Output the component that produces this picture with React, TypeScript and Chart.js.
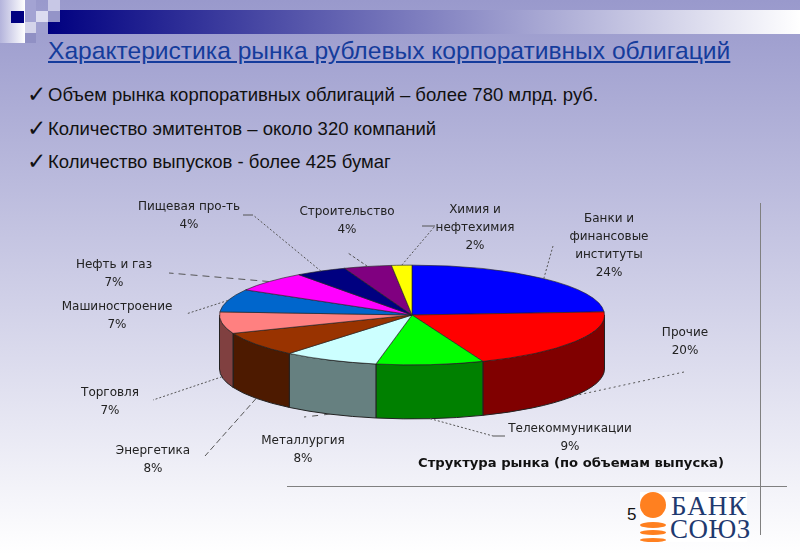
import React, { useEffect, useRef } from "react";
import { Chart, registerables } from "chart.js";

Chart.register(...registerables);

const categories = [
  "Банки и\nфинансовые\nинституты",
  "Прочие",
  "Телекоммуникации",
  "Металлургия",
  "Энергетика",
  "Торговля",
  "Машиностроение",
  "Нефть и газ",
  "Пищевая про-ть",
  "Строительство",
  "Химия и\nнефтехимия",
];
const shares = [24, 20, 9, 8, 8, 7, 7.4, 6.6, 4.3, 4, 1.7];
const topColors = ["#0000ff", "#ff0000", "#00ff00", "#ccffff", "#993300", "#ff8080", "#0066cc", "#ff00ff", "#000080", "#800080", "#ffff00"];
const wallColors = ["#000080", "#800000", "#008000", "#668080", "#4d1a00", "#804040", "#003366", "#800080", "#000040", "#400040", "#808000"];

// label centre (x, first-line y) and the outer end of each leader line
const labelAnchors = [[609, 219], [685, 333], [570, 429], [303, 441], [153, 451], [110, 393], [117, 307], [114, 265], [189, 207], [347, 212], [475, 210]];
const leaderEnds = [[553, 246], [684, 372], [493, 436], [304, 417], [205, 456], [153, 400], [186, 314], [169, 273], [253, 215], [348, 253], [435, 226]];
const leaderTails = [null, null, [505, 436], null, null, null, null, null, [243, 215], null, [422, 226]];
const leaderDash = [[2, 2], [2, 3], [2, 2], [6, 6], [6, 3], [2, 2], [2, 2], [7, 5], [2, 2], [3, 2], [2, 2]];

const chartTitle = "Структура рынка (по объемам выпуска)";
const headline = "Характеристика рынка рублевых корпоративных облигаций";
const bullets = [
  "Объем рынка корпоративных облигаций – более 780 млрд. руб.",
  "Количество эмитентов – около 320 компаний",
  "Количество выпусков - более 425 бумаг",
];
const pageNumber = "5";

const TILT = 50 / 193;
const DEPTH = 54;

const piePerspective = {
  id: "piePerspective",
  beforeDatasetsDraw(chart: any) {
    const { ctx } = chart;
    const arcs = chart.getDatasetMeta(0).data;
    const { x: cx, y: cy, outerRadius: r } = arcs[0].getProps(["x", "y", "outerRadius"], true);
    const ry = r * TILT;
    arcs.forEach((arc: any, i: number) => {
      const { startAngle, endAngle } = arc.getProps(["startAngle", "endAngle"], true);
      const a = Math.max(startAngle, 0);
      const b = Math.min(endAngle, Math.PI);
      if (b <= a) return;
      ctx.save();
      ctx.beginPath();
      ctx.ellipse(cx, cy, r, ry, 0, a, b);
      ctx.ellipse(cx, cy + DEPTH, r, ry, 0, b, a, true);
      ctx.closePath();
      ctx.fillStyle = wallColors[i];
      ctx.fill();
      ctx.lineWidth = 1;
      ctx.strokeStyle = "#222";
      ctx.stroke();
      ctx.restore();
    });
    ctx.save();
    ctx.translate(0, cy);
    ctx.scale(1, TILT);
    ctx.translate(0, -cy);
  },
  afterDatasetsDraw(chart: any) {
    chart.ctx.restore();
  },
  afterDraw(chart: any) {
    const { ctx } = chart;
    const arcs = chart.getDatasetMeta(0).data;
    ctx.save();
    arcs.forEach((arc: any, i: number) => {
      const { x: cx, y: cy, outerRadius: r, startAngle, endAngle } = arc.getProps(["x", "y", "outerRadius", "startAngle", "endAngle"], true);
      const mid = (startAngle + endAngle) / 2;
      const front = Math.sin(mid) > 0;
      const px = cx + r * Math.cos(mid);
      const py = cy + r * TILT * Math.sin(mid) + (front ? DEPTH : 0);
      const [ex, ey] = leaderEnds[i];
      ctx.strokeStyle = "#555";
      ctx.lineWidth = 1;
      ctx.setLineDash(leaderDash[i]);
      ctx.beginPath();
      ctx.moveTo(px, py);
      ctx.lineTo(ex, ey);
      ctx.stroke();
      ctx.setLineDash([]);
      const tail = leaderTails[i];
      if (tail) {
        ctx.beginPath();
        ctx.moveTo(ex, ey);
        ctx.lineTo(tail[0], tail[1]);
        ctx.stroke();
      }
      const lines = [...categories[i].split("\n"), `${Math.round(shares[i])}%`];
      ctx.font = "12px 'DejaVu Sans'";
      ctx.fillStyle = "#222";
      ctx.textAlign = "center";
      ctx.textBaseline = "middle";
      lines.forEach((line: string, k: number) => {
        ctx.fillText(line, labelAnchors[i][0], labelAnchors[i][1] + k * 18);
      });
    });
    ctx.font = "bold 13.15px 'DejaVu Sans'";
    ctx.fillStyle = "#111";
    ctx.textAlign = "center";
    ctx.textBaseline = "middle";
    ctx.fillText(chartTitle, 571, 464);
    ctx.restore();
  },
};

const abs = (left: number, top: number, width: number, height: number, background: string): React.CSSProperties => ({
  position: "absolute",
  left,
  top,
  width,
  height,
  background,
});

const cornerSquares: [number, number, number, number, string][] = [
  [25, 0, 11, 22, "#a3a3d3"],
  [36, 11, 12, 11, "#dcdcf0"],
  [48, 0, 12, 11, "#c8c8e6"],
  [48, 11, 12, 11, "#9494c8"],
  [25, 22, 11, 11, "#d4d4ea"],
  [36, 22, 12, 11, "#a0a0d0"],
  [25, 33, 11, 10, "#9090c4"],
];

export default function App() {
  const ref = useRef<HTMLCanvasElement>(null);
  useEffect(() => {
    document.body.style.margin = "0";
    const chart = new Chart(ref.current as HTMLCanvasElement, {
      type: "pie",
      data: {
        labels: categories,
        datasets: [
          {
            data: shares,
            backgroundColor: topColors,
            borderColor: "#222",
            borderWidth: 1,
            clip: false,
          } as any,
        ],
      },
      options: {
        responsive: false,
        animation: false,
        layout: { padding: { left: 219, right: 195, top: 122, bottom: 46 } },
        plugins: { legend: { display: false }, tooltip: { enabled: false } },
      },
      plugins: [piePerspective],
    });
    return () => chart.destroy();
  }, []);

  const sans = "'Liberation Sans', Arial, sans-serif";
  return (
    <div style={{ position: "relative", width: 800, height: 554, overflow: "hidden", background: "linear-gradient(180deg, #9999cc 0%, #ffffff 100%)" }}>
      <div style={abs(48, 10, 752, 24, "linear-gradient(90deg, #000080 0%, #ffffff 100%)")} />
      <div style={abs(0, 0, 25, 43, "linear-gradient(90deg, #b4b4dc 0%, #ffffff 100%)")} />
      <div style={abs(11, 11, 13, 12, "#000080")} />
      {cornerSquares.map(([l, t, w, h, c], i) => (
        <div key={i} style={abs(l, t, w, h, c)} />
      ))}
      <div style={{ position: "absolute", left: 48, top: 37, fontFamily: sans, fontSize: 24.6, lineHeight: "28px", color: "#153c9c", textDecoration: "underline", whiteSpace: "nowrap" }}>
        {headline}
      </div>
      {bullets.map((b, i) => (
        <React.Fragment key={i}>
          <div style={{ position: "absolute", left: 27, top: 82 + i * 33.5, fontFamily: "'DejaVu Sans'", fontSize: 23, lineHeight: "24px", color: "#111" }}>✓</div>
          <div style={{ position: "absolute", left: 48, top: 83 + i * 33.5, fontFamily: sans, fontSize: 18.5, lineHeight: "24px", color: "#111", whiteSpace: "nowrap" }}>{b}</div>
        </React.Fragment>
      ))}
      <div style={abs(760, 203, 1, 332, "#808080")} />
      <div style={abs(287, 486, 500, 1, "#808080")} />
      <div style={{ position: "absolute", left: 627, top: 503, fontFamily: sans, fontSize: 17, lineHeight: "24px", color: "#111" }}>{pageNumber}</div>
      <div style={abs(640, 492, 107, 50, "#ffffff")} />
      <div style={{ ...abs(640, 492, 26, 26, "#ff8020"), borderRadius: "50%" }} />
      <div style={{ ...abs(640, 522, 26, 6, "#ff8020"), borderRadius: "50%" }} />
      <div style={{ ...abs(640, 530, 26, 5, "#ff8020"), borderRadius: "50%" }} />
      <div style={{ ...abs(640, 538, 26, 4, "#ff8020"), borderRadius: "50%" }} />
      <div style={{ position: "absolute", left: 671, top: 492, fontFamily: "'Liberation Serif'", fontSize: 27, lineHeight: "28px", letterSpacing: 1, color: "#1f3a70" }}>БАНК</div>
      <div style={{ position: "absolute", left: 670, top: 516, fontFamily: "'Liberation Serif'", fontSize: 27, lineHeight: "26px", letterSpacing: 0.5, color: "#1f3a70" }}>СОЮЗ</div>
      <canvas ref={ref} width={800} height={554} style={{ position: "absolute", left: 0, top: 0 }} />
    </div>
  );
}
